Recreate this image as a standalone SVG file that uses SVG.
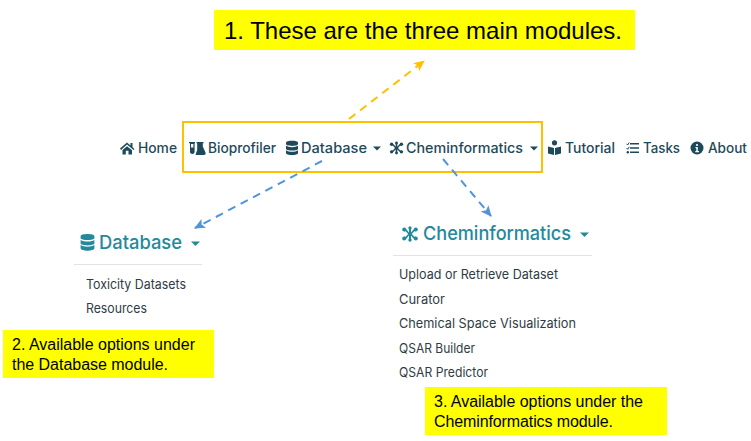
<svg xmlns="http://www.w3.org/2000/svg" width="751" height="441" viewBox="0 0 751 441">
<style>
text{font-family:"Inter","Noto Sans","Liberation Sans",sans-serif}
.nav{font-size:14px;font-weight:500;fill:#1d4a5b}
.navi{fill:#1d4a5b}
.head{font-size:19px;font-weight:500;fill:#23899b}
.headi{fill:#23899b}
.item{font-size:13px;font-weight:400;fill:#2f3c44}
.note{font-family:"Liberation Sans",Arial,sans-serif;font-size:16px;fill:#000}
.yb{fill:#ffff00}
.rule{stroke:#e3e3e3;stroke-width:1}
.c{fill:none;stroke-width:2;stroke-dasharray:8 6}
</style>
<defs>
<marker id="ay" markerUnits="userSpaceOnUse" markerWidth="12" markerHeight="12" refX="10" refY="5" orient="auto"><path d="M0 0L11 5L0 10L2.500 5Z" fill="#ffc000"/></marker>
<marker id="ab" markerUnits="userSpaceOnUse" markerWidth="12" markerHeight="12" refX="10" refY="5" orient="auto"><path d="M0 0L11 5L0 10L2.500 5Z" fill="#4f94dc"/></marker>
<g id="db"><path d="M-6-5.500C-6-8 6-8 6-5.500V-4C6-1.500-6-1.500-6-4ZM-6-2.200C-3-.4 3-.4 6-2.200V.7C6 3.200-6 3.200-6 .7ZM-6 2.200C-3 4.200 3 4.200 6 2.200V5C6 7.800-6 7.800-6 5Z"/></g>
<g id="chem"><path d="M-1-6H1V6H-1ZM-6-4.500H-3.500L-1 -1.500H1L3.500-4.500H6V-2.800H4.300L1.800 0L4.300 2.800H6V4.500H3.500L1 1.500H-1L-3.500 4.500H-6V2.800H-4.300L-1.800 0L-4.300-2.800H-6Z"/><circle cx="-5.800" cy="-4.500" r="2"/><circle cx="5.800" cy="-4.500" r="2"/><circle cx="-5.800" cy="4.500" r="2"/><circle cx="5.800" cy="4.500" r="2"/><circle cx="0" cy="-6" r="1.700"/><circle cx="0" cy="6" r="1.700"/></g>
</defs>

<g id="nav-home"><path class="navi" d="M120 148.500L127 142.500L130.500 145.500V143H132.500V147.200L134.500 149L133.500 150L127 144.600L121 150ZM122.500 150L127 146.200L132 150.300V154.500H128.500V150.800H125.800V154.500H122.500Z"/><text class="nav" x="138" y="153" textLength="39" lengthAdjust="spacingAndGlyphs">Home</text></g>
<g id="nav-bioprofiler"><path class="navi" d="M189 142H195V143.200H194.600V152C194.600 154.500 190 154.500 190 152V143.200H189ZM191 144V147.500H193.400V144Z" fill-rule="evenodd"/><path class="navi" d="M196.500 142H203.500V143.200H202.800V146.500L205.500 152.500C206 154 205.200 155 204 155H196.500C195.500 155 195.300 154.500 195.800 153.800L197.200 150V143.200H196.500Z"/><text class="nav" x="208" y="153" textLength="68" lengthAdjust="spacingAndGlyphs">Bioprofiler</text></g>
<g id="nav-database"><use href="#db" x="292" y="148" class="navi"/><text class="nav" x="301" y="153" textLength="66" lengthAdjust="spacingAndGlyphs">Database</text><path class="navi" d="M373 146.500H381L377 150.500Z"/></g>
<g id="nav-cheminformatics"><use href="#chem" transform="translate(396.500 148) scale(.85)" class="navi"/><text class="nav" x="406" y="153" textLength="117" lengthAdjust="spacingAndGlyphs">Cheminformatics</text><path class="navi" d="M530 146.500H538L534 150.500Z"/></g>
<g id="nav-tutorial"><circle class="navi" cx="554.500" cy="142.800" r="2.600"/><path class="navi" d="M548 146.500L554 148V155L548 153.500ZM561 146.500L555 148V155L561 153.500Z"/><text class="nav" x="565" y="153" textLength="50" lengthAdjust="spacingAndGlyphs">Tutorial</text></g>
<g id="nav-tasks"><path class="navi" d="M630 143H639V144.500H630ZM630 147.300H639V148.800H630ZM630 151.600H639V153.100H630Z"/><path d="M626.500 143.800L627.700 145L629.200 142.500M626.500 148L627.700 149.300L629.200 146.800" fill="none" stroke="#1d4a5b" stroke-width="1"/><circle class="navi" cx="627.800" cy="152.300" r="1.200"/><text class="nav" x="643" y="153" textLength="37" lengthAdjust="spacingAndGlyphs">Tasks</text></g>
<g id="nav-about"><circle class="navi" cx="697" cy="148" r="6.500"/><circle cx="697" cy="145" r="1.100" fill="#fff"/><path d="M695.500 147H697.800V151H699V152.200H695.300V151H696.300V148.200H695.500Z" fill="#fff"/><text class="nav" x="708" y="153" textLength="39" lengthAdjust="spacingAndGlyphs">About</text></g>

<g id="highlight"><rect x="183" y="122" width="359" height="50" fill="none" stroke="#ffc000" stroke-width="2"/></g>

<g id="note-1"><rect class="yb" x="214" y="10" width="421" height="40"/><text class="note" x="224" y="38.500" style="font-size:24px" textLength="398">1. These are the three main modules.</text></g>

<g id="connectors">
<path class="c" stroke="#ffc000" d="M349 119L424 61" marker-end="url(#ay)"/>
<path class="c" stroke="#4f94dc" d="M322 161L195 228" marker-end="url(#ab)"/>
<path class="c" stroke="#4f94dc" d="M443 159L491 216" marker-end="url(#ab)"/>
</g>

<g id="menu-database">
<use href="#db" transform="translate(87.500 242.500) scale(1.150)" class="headi"/>
<text class="head" x="99" y="249" textLength="83" lengthAdjust="spacingAndGlyphs">Database</text>
<path class="headi" d="M191 241.500H200L195.500 246Z"/>
<line class="rule" x1="74" y1="264.500" x2="202" y2="264.500"/>
<text class="item" x="86" y="288.500" textLength="100" lengthAdjust="spacingAndGlyphs">Toxicity Datasets</text>
<text class="item" x="86" y="313" textLength="61" lengthAdjust="spacingAndGlyphs">Resources</text>
</g>

<g id="menu-cheminformatics">
<use href="#chem" transform="translate(410 234)" class="headi"/>
<text class="head" x="423" y="240" textLength="148" lengthAdjust="spacingAndGlyphs">Cheminformatics</text>
<path class="headi" d="M580 232.500H589L584.500 237Z"/>
<line class="rule" x1="393" y1="255.500" x2="592" y2="255.500"/>
<text class="item" x="399" y="279" textLength="159" lengthAdjust="spacingAndGlyphs">Upload or Retrieve Dataset</text>
<text class="item" x="399" y="303.500" textLength="46" lengthAdjust="spacingAndGlyphs">Curator</text>
<text class="item" x="399" y="328" textLength="177" lengthAdjust="spacingAndGlyphs">Chemical Space Visualization</text>
<text class="item" x="399" y="352.500" textLength="76" lengthAdjust="spacingAndGlyphs">QSAR Builder</text>
<text class="item" x="399" y="377" textLength="89" lengthAdjust="spacingAndGlyphs">QSAR Predictor</text>
</g>

<g id="note-2"><rect class="yb" x="3" y="330" width="211" height="48"/><text class="note" x="12" y="350" textLength="183">2. Available options under</text><text class="note" x="12" y="370" textLength="156">the Database module.</text></g>
<g id="note-3"><rect class="yb" x="425" y="387" width="242" height="48"/><text class="note" x="434" y="407" textLength="209">3. Available options under the</text><text class="note" x="434" y="427" textLength="179">Cheminformatics module.</text></g>
</svg>
